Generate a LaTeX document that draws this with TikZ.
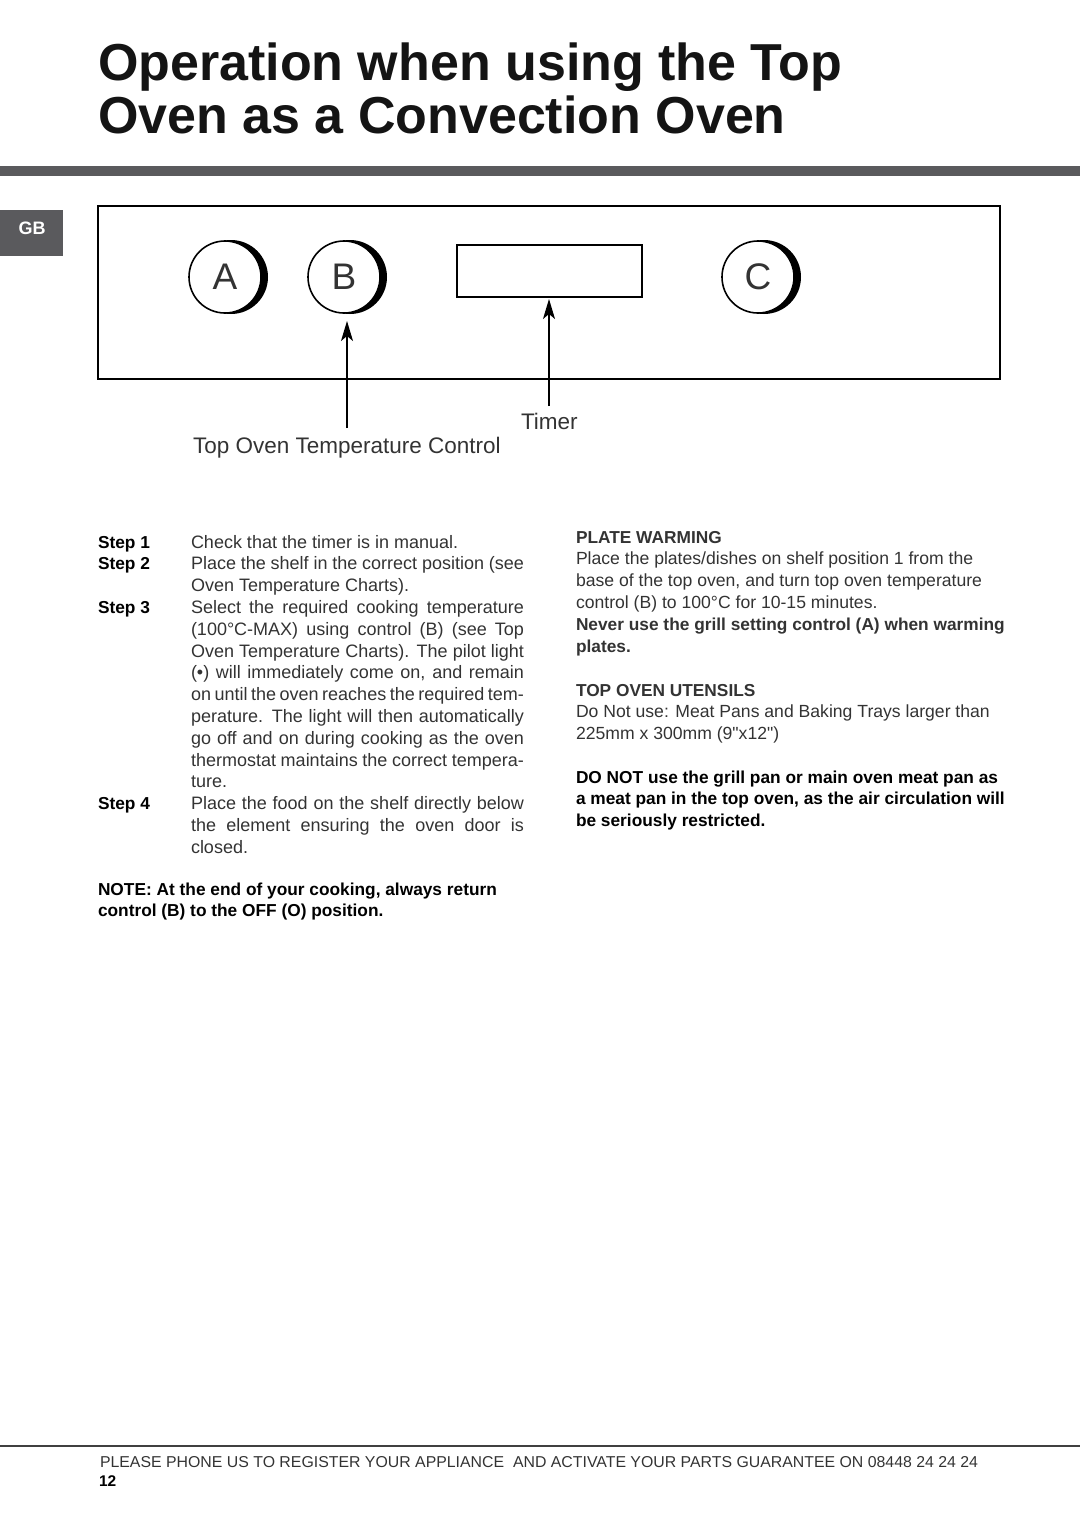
\documentclass[tikz,border=0pt]{standalone}
\usepackage{fontspec}
\usepackage{graphicx}
\setmainfont{Liberation Sans}
\newfontfamily\plainsans{Liberation Sans}
\usetikzlibrary{arrows.meta,positioning}

\definecolor{bargray}{HTML}{5A5A5D}
\definecolor{inkgray}{HTML}{333333}

% one justified line of the left column
\newcommand{\jline}[1]{\makebox[333pt][s]{#1}}
% straight inch mark
\newcommand{\inch}{{\plainsans"}}

\begin{document}
\begin{tikzpicture}[x=1pt,y=-1pt,>=Stealth,line join=miter]
\tikzstyle{every node}=[inner sep=0pt,outer sep=0pt]
\tikzstyle{knob}=[circle,draw,line width=1.6pt,fill=white,minimum size=72pt,
                  font=\fontsize{37}{37}\selectfont,text=inkgray]
\tikzstyle{pointer}=[-{Stealth[length=20pt,width=12pt,inset=5pt]},line width=1.3pt]
\tikzstyle{label}=[anchor=base west,font=\fontsize{22.5}{24}\selectfont,text=inkgray]
% multi-line nodes sit on the baseline of their last line
\tikzstyle{body}=[anchor=base west,align=left,font=\fontsize{18}{21.8}\selectfont,text=inkgray]
\tikzstyle{bold}=[anchor=base west,align=left,font=\fontsize{17.3}{21.8}\selectfont\bfseries]

\useasboundingbox (0,0) rectangle (1080,1527);

% heading
\node [anchor=base west,align=left,font=\fontsize{52}{53}\selectfont\bfseries,text=black!92]
      (title) at (98,133.5) {Operation when using the Top\\Oven as a Convection Oven};
\fill [bargray] (0,166) rectangle (1080,176);
\fill [bargray] (0,210) rectangle (63,256);
\node [font=\fontsize{18}{18}\selectfont\bfseries,text=white] (gb) at (32,228) {GB};

% control panel
\draw [line width=2.5pt] (98,206) rectangle (1000,379);
\foreach \n/\x in {A/225,B/344,C/758}{
  \fill (\x+6,277) circle (37);
  \node [knob] (knob\n) at (\x,277) {\n};
}
\node [draw,line width=2pt,minimum width=185pt,minimum height=52pt] (timer) at (549,271) {};

\coordinate (tempEnd) at (347,428);
\coordinate (timerEnd) at (549,406);
\draw [pointer,shorten >=8pt] (tempEnd) -- (tempEnd |- knobB.south);
\draw [pointer,shorten >=2pt] (timerEnd) -- (timerEnd |- timer.south);

\node [label] (timerLbl) at (521,429) {Timer};
\node [label] (tempLbl) at (193,453.5) {Top Oven Temperature Control};

% left column
\node [bold] (step1) at (98,548) {Step 1};
\node [bold] (step2) at (98,569.8) {Step 2};
\node [bold] (step3) at (98,613.4) {Step 3};
\node [bold] (step4) at (98,809.6) {Step 4};
\node [body] (steps) at (191,853.2) {Check that the timer is in manual.\\
  \jline{Place the shelf in the correct position (see}\\
  Oven Temperature Charts).\\
  \jline{Select the required cooking temperature}\\
  \jline{(100°C-MAX) using control (B) (see Top}\\
  \jline{Oven Temperature Charts). The pilot light}\\
  \jline{(•) will immediately come on, and remain}\\
  \jline{on until the oven reaches the required tem-}\\
  \jline{perature. The light will then automatically}\\
  \jline{go off and on during cooking as the oven}\\
  \jline{thermostat maintains the correct tempera-}\\
  ture.\\
  \jline{Place the food on the shelf directly below}\\
  \jline{the element ensuring the oven door is}\\
  closed.};
\node [bold] (note) at (98,916.8) {NOTE: At the end of your cooking, always return\\
  control (B) to the OFF (O) position.};

% right column
\node [body,font=\fontsize{17.6}{21.8}\selectfont] (warming) at (576,652) {\textbf{\fontsize{17.3}{21.8}\selectfont PLATE WARMING}\\
  Place the plates/dishes on shelf position 1 from the\\
  base of the top oven, and turn top oven temperature\\
  control (B) to 100°C for 10-15 minutes.\\
  \textbf{\fontsize{17.3}{21.8}\selectfont Never use the grill setting control (A) when warming}\\
  \textbf{\fontsize{17.3}{21.8}\selectfont plates.}};
\node [body,font=\fontsize{17.6}{21.8}\selectfont] (utensils) at (576,739.6) {\textbf{\fontsize{17.3}{21.8}\selectfont TOP OVEN UTENSILS}\\
  Do Not use: Meat Pans and Baking Trays larger than\\
  225mm x 300mm (9\inch x12\inch)};
\node [bold] (warning) at (576,826.6) {DO NOT use the grill pan or main oven meat pan as\\
  a meat pan in the top oven, as the air circulation will\\
  be seriously restricted.};

% footer
\draw [line width=2pt,black!75] (0,1446) -- (1080,1446);
\node [anchor=base west,text=inkgray] (footer) at (100,1467)
      {\resizebox{878pt}{11pt}{PLEASE PHONE US TO REGISTER YOUR APPLIANCE\ \ AND ACTIVATE YOUR PARTS GUARANTEE ON 08448 24 24 24}};
\node [anchor=base west,font=\fontsize{15.5}{16}\selectfont\bfseries] (pageno) at (99,1486) {12};
\end{tikzpicture}
\end{document}
